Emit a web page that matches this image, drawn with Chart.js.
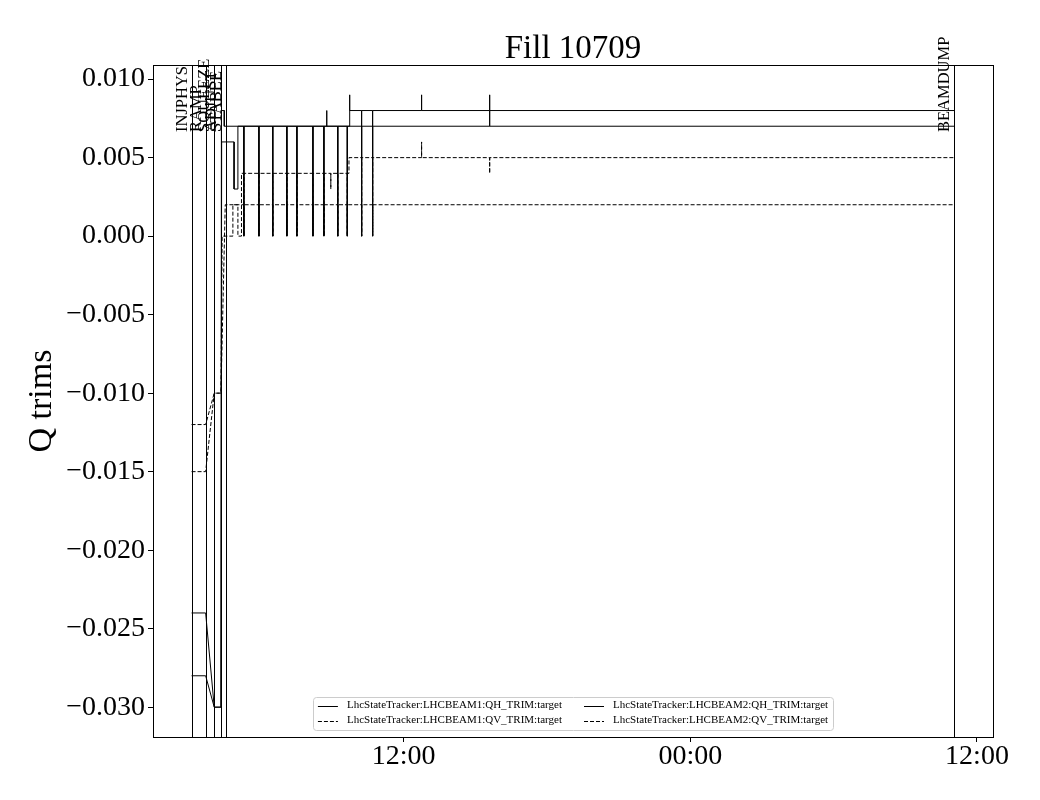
<!DOCTYPE html>
<html>
<head>
<meta charset="utf-8">
<script src="https://cdn.jsdelivr.net/npm/chart.js@4.4.1/dist/chart.umd.min.js"></script>
<style>
  html, body { margin: 0; padding: 0; background: #fff; }
  #wrap { width: 1040px; height: 800px; }
</style>
</head>
<body>
<div id="wrap"><canvas id="trims" width="1040" height="800"></canvas></div>
<script>
// Q trims for fill 10709 — time in hours from 00:00 of the first day

// ─── Data ─────────────────────────────────────────────
const chartTitle = 'Fill 10709';
const yAxisTitle = 'Q trims';

const yTickValues = [-0.030, -0.025, -0.020, -0.015, -0.010, -0.005, 0.000, 0.005, 0.010];
const xTickHours = [12, 24, 36];
const xTickLabels = ['12:00', '00:00', '12:00'];

const modeTimes = [3.12, 3.71, 4.07, 4.35, 4.545, 35.04];
const modeNames = ['INJPHYS', 'RAMP', 'SQUEEZE', 'ADJUST', 'STABLE', 'BEAMDUMP'];

const seriesNames = [
    'LhcStateTracker:LHCBEAM1:QH_TRIM:target',
    'LhcStateTracker:LHCBEAM1:QV_TRIM:target',
    'LhcStateTracker:LHCBEAM2:QH_TRIM:target',
    'LhcStateTracker:LHCBEAM2:QV_TRIM:target'
];

const b1QhTime = [3.12, 3.71, 4.07, 4.35, 4.37, 4.49, 4.49,
    5.31, 5.31, 5.31, 5.94, 5.94, 5.94, 6.52, 6.52, 6.52, 7.11, 7.11, 7.11, 7.53, 7.53, 7.53,
    8.20, 8.20, 8.20, 8.66, 8.66, 8.66, 9.24, 9.24, 9.24, 9.64, 9.64, 9.64,
    9.74, 9.74, 9.74, 10.24, 10.24, 10.24, 10.70, 10.70, 10.70,
    12.75, 12.75, 12.75, 15.60, 15.60, 15.60, 35.04];
const b1QhTrim = [-0.024, -0.024, -0.030, -0.030, 0.008, 0.008, 0.007,
    0.007, 0, 0.007, 0.007, 0, 0.007, 0.007, 0, 0.007, 0.007, 0, 0.007, 0.007, 0, 0.007,
    0.007, 0, 0.007, 0.007, 0, 0.007, 0.007, 0, 0.007, 0.007, 0, 0.007,
    0.007, 0.009, 0.008, 0.008, 0, 0.008, 0.008, 0, 0.008,
    0.008, 0.009, 0.008, 0.008, 0.009, 0.008, 0.008];

const b1QvTime = [3.12, 3.71, 4.07, 4.35, 4.53,
    5.31, 5.31, 5.31, 5.94, 5.94, 5.94, 6.52, 6.52, 6.52, 7.11, 7.11, 7.11, 7.53, 7.53, 7.53,
    8.20, 8.20, 8.20, 8.66, 8.66, 8.66, 9.24, 9.24, 9.24, 9.64, 9.64, 9.64,
    10.24, 10.24, 10.24, 10.70, 10.70, 10.70, 35.04];
const b1QvTrim = [-0.012, -0.012, -0.010, -0.010, 0.002,
    0.002, 0, 0.002, 0.002, 0, 0.002, 0.002, 0, 0.002, 0.002, 0, 0.002, 0.002, 0, 0.002,
    0.002, 0, 0.002, 0.002, 0, 0.002, 0.002, 0, 0.002, 0.002, 0, 0.002,
    0.002, 0, 0.002, 0.002, 0, 0.002, 0.002];

const b2QhTime = [3.12, 3.71, 4.07, 4.35, 4.38, 4.90, 4.90, 5.06, 5.06,
    5.31, 5.31, 5.31, 5.94, 5.94, 5.94, 6.52, 6.52, 6.52, 7.11, 7.11, 7.11, 7.53, 7.53, 7.53,
    8.20, 8.20, 8.20, 8.66, 8.66, 8.66, 8.78, 8.78, 8.78, 9.24, 9.24, 9.24, 9.64, 9.64, 9.64,
    10.24, 10.24, 10.24, 10.70, 10.70, 10.70, 15.60, 15.60, 15.60, 35.04];
const b2QhTrim = [-0.028, -0.028, -0.030, -0.030, 0.006, 0.006, 0.003, 0.003, 0.007,
    0.007, 0, 0.007, 0.007, 0, 0.007, 0.007, 0, 0.007, 0.007, 0, 0.007, 0.007, 0, 0.007,
    0.007, 0, 0.007, 0.007, 0, 0.007, 0.007, 0.008, 0.007, 0.007, 0, 0.007, 0.007, 0, 0.007,
    0.007, 0, 0.007, 0.007, 0, 0.007, 0.007, 0.008, 0.007, 0.007];

const b2QvTime = [3.12, 3.71, 4.07, 4.35, 4.40, 4.85, 4.85, 5.06, 5.06, 5.21, 5.21,
    5.31, 5.31, 5.31, 5.94, 5.94, 5.94, 6.52, 6.52, 6.52, 7.11, 7.11, 7.11, 7.53, 7.53, 7.53,
    8.20, 8.20, 8.20, 8.66, 8.66, 8.66, 8.95, 8.95, 8.95, 9.24, 9.24, 9.24, 9.64, 9.64, 9.64,
    9.71, 9.71, 10.24, 10.24, 10.24, 10.70, 10.70, 10.70,
    12.75, 12.75, 12.75, 15.60, 15.60, 15.60, 35.04];
const b2QvTrim = [-0.015, -0.015, -0.010, -0.010, 0, 0, 0.002, 0.002, 0, 0, 0.004,
    0.004, 0, 0.004, 0.004, 0, 0.004, 0.004, 0, 0.004, 0.004, 0, 0.004, 0.004, 0, 0.004,
    0.004, 0, 0.004, 0.004, 0, 0.004, 0.004, 0.003, 0.004, 0.004, 0, 0.004, 0.004, 0, 0.004,
    0.004, 0.005, 0.005, 0, 0.005, 0.005, 0, 0.005,
    0.005, 0.006, 0.005, 0.005, 0.004, 0.005, 0.005];

// ─── Helpers ──────────────────────────────────────────
const SERIF = '"Liberation Serif", "DejaVu Serif", serif';

function toPoints(xs, ys) {
    return xs.map((x, i) => ({ x: x, y: ys[i] }));
}

function formatTrim(v) {
    const s = Math.abs(v).toFixed(3);
    return (v < -1e-9 ? '\u2212' : '') + s;
}

function traceDataset(label, xs, ys, dashed) {
    return {
        label: label,
        data: toPoints(xs, ys),
        borderColor: '#000',
        borderWidth: 1,
        borderDash: dashed ? [4, 2] : [],
        pointRadius: 0,
        tension: 0,
        fill: false
    };
}

// ─── Plugins: mode lines, frame, title, legend ────────
const decorations = {
    id: 'decorations',
    afterDatasetsDraw(chart) {
        const ctx = chart.ctx;
        const area = chart.chartArea;
        const xs = chart.scales.x;
        ctx.save();
        ctx.strokeStyle = '#000';
        ctx.lineWidth = 1;
        ctx.fillStyle = '#000';
        ctx.font = '16.5px ' + SERIF;
        modeTimes.forEach((t, i) => {
            const px = Math.round(xs.getPixelForValue(t)) + 0.5;
            ctx.beginPath();
            ctx.moveTo(px, area.top);
            ctx.lineTo(px, area.bottom);
            ctx.stroke();
            ctx.save();
            ctx.translate(px - 6, area.top + 67);
            ctx.rotate(-Math.PI / 2);
            ctx.textAlign = 'left';
            ctx.textBaseline = 'alphabetic';
            ctx.fillText(modeNames[i], 0, 0);
            ctx.restore();
        });
        // frame
        ctx.strokeRect(Math.round(area.left) + 0.5, Math.round(area.top) + 0.5,
            Math.round(area.right - area.left), Math.round(area.bottom - area.top));
        // title
        ctx.font = '33px ' + SERIF;
        ctx.textAlign = 'center';
        ctx.textBaseline = 'alphabetic';
        ctx.fillText(chartTitle, (area.left + area.right) / 2, area.top - 7);
        ctx.restore();
    },
    afterDraw(chart) {
        const ctx = chart.ctx;
        const area = chart.chartArea;
        const sets = chart.data.datasets;
        const fs = 11, handle = 20, gap = 9, pad = 5, colSpace = 22, rowStep = 15;
        ctx.save();
        ctx.font = fs + 'px ' + SERIF;
        // matplotlib ncol=2 fills column by column
        const cols = [[0, 1], [2, 3]];
        const colW = cols.map(c => handle + gap + Math.max(...c.map(i => ctx.measureText(sets[i].label).width)));
        const boxW = pad * 2 + colW[0] + colSpace + colW[1];
        const boxH = 33;
        const boxL = (area.left + area.right) / 2 - boxW / 2;
        const boxB = area.bottom - 7;
        const boxT = boxB - boxH;
        ctx.beginPath();
        ctx.roundRect(Math.round(boxL) + 0.5, Math.round(boxT) + 0.5, Math.round(boxW), boxH, 3);
        ctx.fillStyle = 'rgba(255,255,255,0.8)';
        ctx.fill();
        ctx.strokeStyle = '#cccccc';
        ctx.lineWidth = 1;
        ctx.stroke();
        let x0 = boxL + pad;
        cols.forEach((c, ci) => {
            c.forEach((i, ri) => {
                const y = boxT + 8.5 + ri * rowStep;
                ctx.beginPath();
                ctx.setLineDash(sets[i].borderDash);
                ctx.strokeStyle = '#000';
                ctx.moveTo(x0, Math.round(y) + 0.5);
                ctx.lineTo(x0 + handle, Math.round(y) + 0.5);
                ctx.stroke();
                ctx.setLineDash([]);
                ctx.fillStyle = '#000';
                ctx.textAlign = 'left';
                ctx.textBaseline = 'middle';
                ctx.fillText(sets[i].label, x0 + handle + gap, y);
            });
            x0 += colW[ci] + colSpace;
        });
        ctx.restore();
    }
};

// ─── Chart ────────────────────────────────────────────
Chart.defaults.font.family = SERIF;
Chart.defaults.color = '#000';

new Chart(document.getElementById('trims'), {
    type: 'line',
    data: {
        datasets: [
            traceDataset(seriesNames[0], b1QhTime, b1QhTrim, false),
            traceDataset(seriesNames[1], b1QvTime, b1QvTrim, true),
            traceDataset(seriesNames[2], b2QhTime, b2QhTrim, false),
            traceDataset(seriesNames[3], b2QvTime, b2QvTrim, true)
        ]
    },
    options: {
        responsive: false,
        animation: false,
        devicePixelRatio: 1,
        layout: { padding: { top: 65, right: 47, bottom: 0, left: 0 } },
        plugins: {
            legend: { display: false },
            tooltip: { enabled: false }
        },
        scales: {
            x: {
                type: 'linear',
                min: 1.506,
                max: 36.67,
                afterBuildTicks: scale => { scale.ticks = xTickHours.map(v => ({ value: v })); },
                afterFit: scale => { scale.height = 63; },
                grid: { drawOnChartArea: false, drawTicks: true, tickLength: 5, color: '#000', tickColor: '#000' },
                border: { display: false },
                ticks: {
                    padding: -2,
                    maxRotation: 0,
                    font: { size: 28 },
                    callback: v => xTickLabels[xTickHours.indexOf(v)]
                }
            },
            y: {
                type: 'linear',
                min: -0.0319,
                max: 0.0109,
                afterBuildTicks: scale => { scale.ticks = yTickValues.map(v => ({ value: v })); },
                afterFit: scale => { scale.width = 153; },
                grid: { drawOnChartArea: false, drawTicks: true, tickLength: 5, color: '#000', tickColor: '#000' },
                border: { display: false },
                title: {
                    display: true,
                    text: yAxisTitle,
                    font: { size: 34 },
                    color: '#000',
                    padding: { top: 22, bottom: 0 }
                },
                ticks: {
                    padding: 3,
                    font: { size: 28 },
                    callback: v => formatTrim(v)
                }
            }
        }
    },
    plugins: [decorations]
});
</script>
</body>
</html>
